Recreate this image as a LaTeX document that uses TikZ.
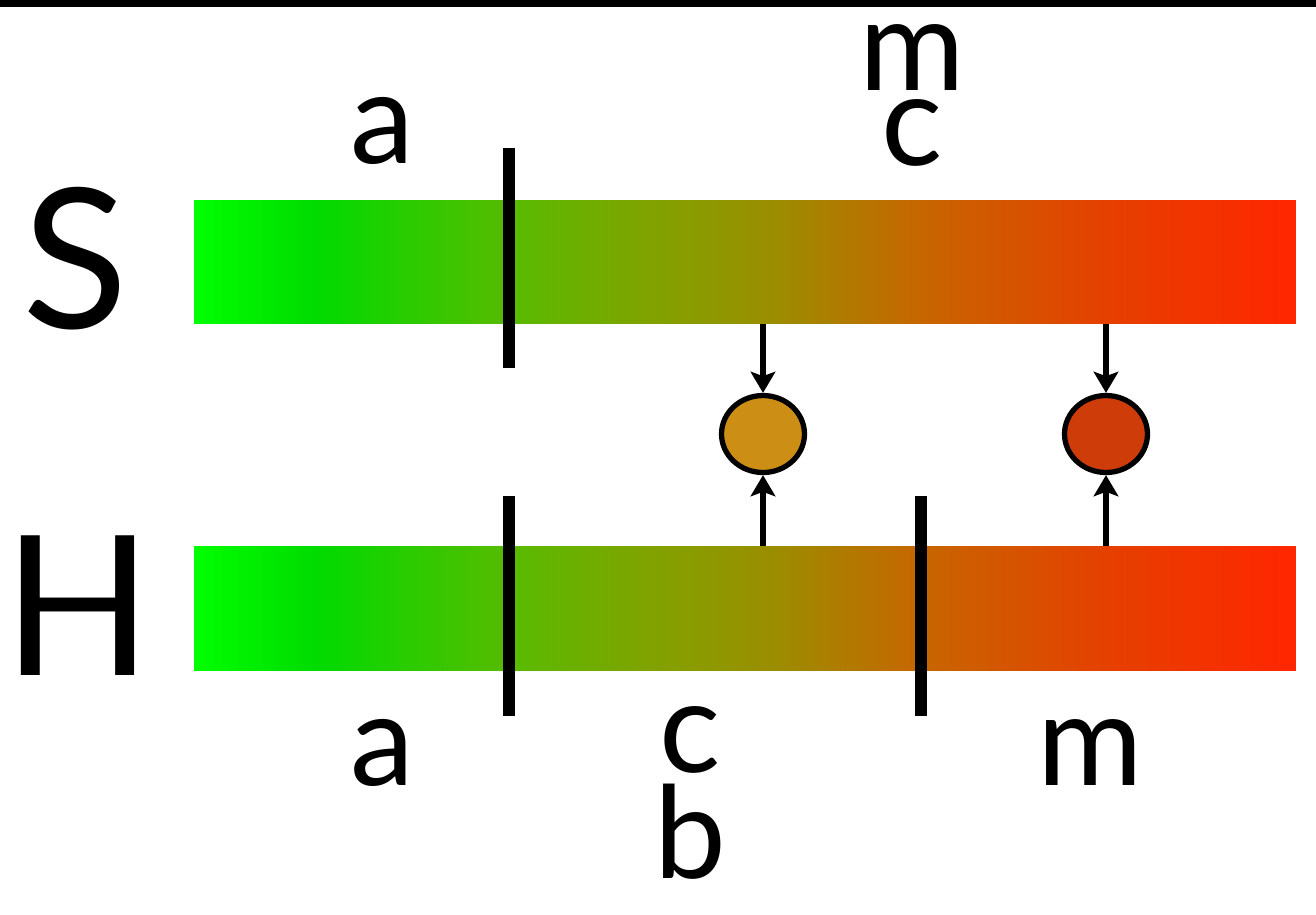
\documentclass[tikz,border=0pt]{standalone}
\usepackage{fontspec}
\setmainfont{Lato}
\usepackage{xcolor}
\usepackage{tikz}
\usetikzlibrary{
	arrows.meta,
	positioning,
	shapes.geometric
}
\definecolor{DotOchre}{RGB}{205,142,22}
\definecolor{DotRust}{RGB}{206,60,10}
\pgfdeclarehorizontalshading{bargrad}{100bp}{%
	rgb(0bp)=(0,1,0); rgb(25bp)=(0,1,0);
	rgb(30.5bp)=(0,0.86,0);
	rgb(39.5bp)=(0.35,0.73,0);
	rgb(45.5bp)=(0.5,0.64,0);
	rgb(51bp)=(0.6,0.56,0);
	rgb(58bp)=(0.78,0.4,0);
	rgb(66.5bp)=(0.9,0.25,0);
	rgb(75bp)=(1,0.15,0); rgb(100bp)=(1,0.15,0)}
\tikzset{
	bar/.style={rectangle, inner sep=0pt, minimum width=22.04cm, minimum height=2.48cm, shading=bargrad},
	tickmark/.style={line width=7pt},
	lbl/.style={anchor=base, inner sep=0pt, font=\fontsize{73}{73}\selectfont},
	biglbl/.style={anchor=base, inner sep=0pt, font=\fontsize{111}{111}\selectfont},
	dot/.style={ellipse, draw, line width=3pt, minimum width=1.66cm, minimum height=1.54cm, inner sep=0pt},
	link/.style={line width=3.2pt, -{Stealth[length=12pt, width=14pt, inset=2.5pt]}}
}

\begin{document}
\begin{tikzpicture}[x=0.02cm, y=-0.02cm]
	\useasboundingbox (0,0) rectangle (1316,914);
	\fill[black] (0,0) rectangle (1316,7);
	% the two bars
	\node[bar] (sbar) at (745,262) {};
	\node[bar] (hbar) at (745,608) {};
	\node[biglbl] (slbl) at (75,328) {S};
	\node[biglbl] (hlbl) at (78,675) {H};
	% cuts
	\draw[tickmark] (509,148) -- (509,368);
	\draw[tickmark] (509,496) -- (509,716);
	\draw[tickmark] (921,496) -- (921,716);
	% labels
	\node[lbl] (sa) at (382,163) {a};
	\node[lbl] (sm) at (912,90) {m};
	\node[lbl] (sc) at (912,165) {c};
	\node[lbl] (ha) at (382,785) {a};
	\node[lbl] (hc) at (690,772) {c};
	\node[lbl] (hb) at (690,878) {b};
	\node[lbl] (hm) at (1090,785) {m};
	% merged points
	\node[dot, fill=DotOchre] (mixa) at (763,434) {};
	\node[dot, fill=DotRust] (mixb) at (1106,434) {};
	\draw[link] (sbar.south -| mixa) -- (mixa.north);
	\draw[link] (hbar.north -| mixa) -- (mixa.south);
	\draw[link] (sbar.south -| mixb) -- (mixb.north);
	\draw[link] (hbar.north -| mixb) -- (mixb.south);
\end{tikzpicture}
\end{document}
